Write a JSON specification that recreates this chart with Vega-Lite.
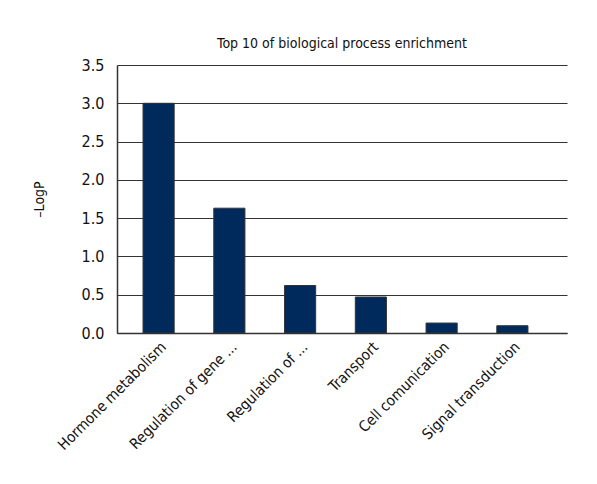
{
  "$schema": "https://vega.github.io/schema/vega-lite/v6.json",
  "autosize": {"type": "none"},
  "padding": {"left": 117, "top": 65, "right": 30, "bottom": 151},
  "width": 450,
  "height": 268,
  "background": "white",
  "title": {
    "text": "Top 10 of biological process enrichment",
    "fontSize": 14,
    "fontWeight": "normal",
    "font": "DejaVu Sans Condensed, sans-serif",
    "color": "#111",
    "offset": 6
  },
  "data": {
    "values": [
      {"process": "Hormone metabolism", "logp": 3.0},
      {"process": "Regulation of gene ...", "logp": 1.63},
      {"process": "Regulation of ...", "logp": 0.62},
      {"process": "Transport", "logp": 0.47},
      {"process": "Cell comunication", "logp": 0.13},
      {"process": "Signal transduction", "logp": 0.095}
    ]
  },
  "mark": {"type": "bar", "fill": "#002a5c", "stroke": "#333333", "strokeWidth": 1},
  "encoding": {
    "x": {
      "field": "process",
      "type": "nominal",
      "sort": null,
      "scale": {"paddingInner": 0.56, "paddingOuter": 0.46, "align": 0.4},
      "axis": {
        "title": null,
        "labelAngle": -45,
        "labelAlign": "right",
        "labelBaseline": "top",
        "labelFontSize": 15,
        "labelPadding": 6,
        "ticks": false,
        "domainColor": "#333333",
        "domainWidth": 1.5,
        "labelColor": "#111",
        "labelLimit": 300
      }
    },
    "y": {
      "field": "logp",
      "type": "quantitative",
      "scale": {"domain": [0, 3.5], "nice": false},
      "axis": {
        "title": "–LogP",
        "values": [0, 0.5, 1, 1.5, 2, 2.5, 3, 3.5],
        "format": ".1f",
        "ticks": false,
        "labelFontSize": 16,
        "labelPadding": 13,
        "labelColor": "#111",
        "titleFontSize": 14,
        "titleFontWeight": "normal",
        "titleColor": "#111",
        "titlePadding": 35,
        "domainColor": "#333333",
        "domainWidth": 1.5,
        "grid": true,
        "gridColor": "#333333",
        "gridWidth": 1
      }
    }
  },
  "config": {
    "font": "DejaVu Sans Condensed, sans-serif",
    "view": {"stroke": null}
  }
}
